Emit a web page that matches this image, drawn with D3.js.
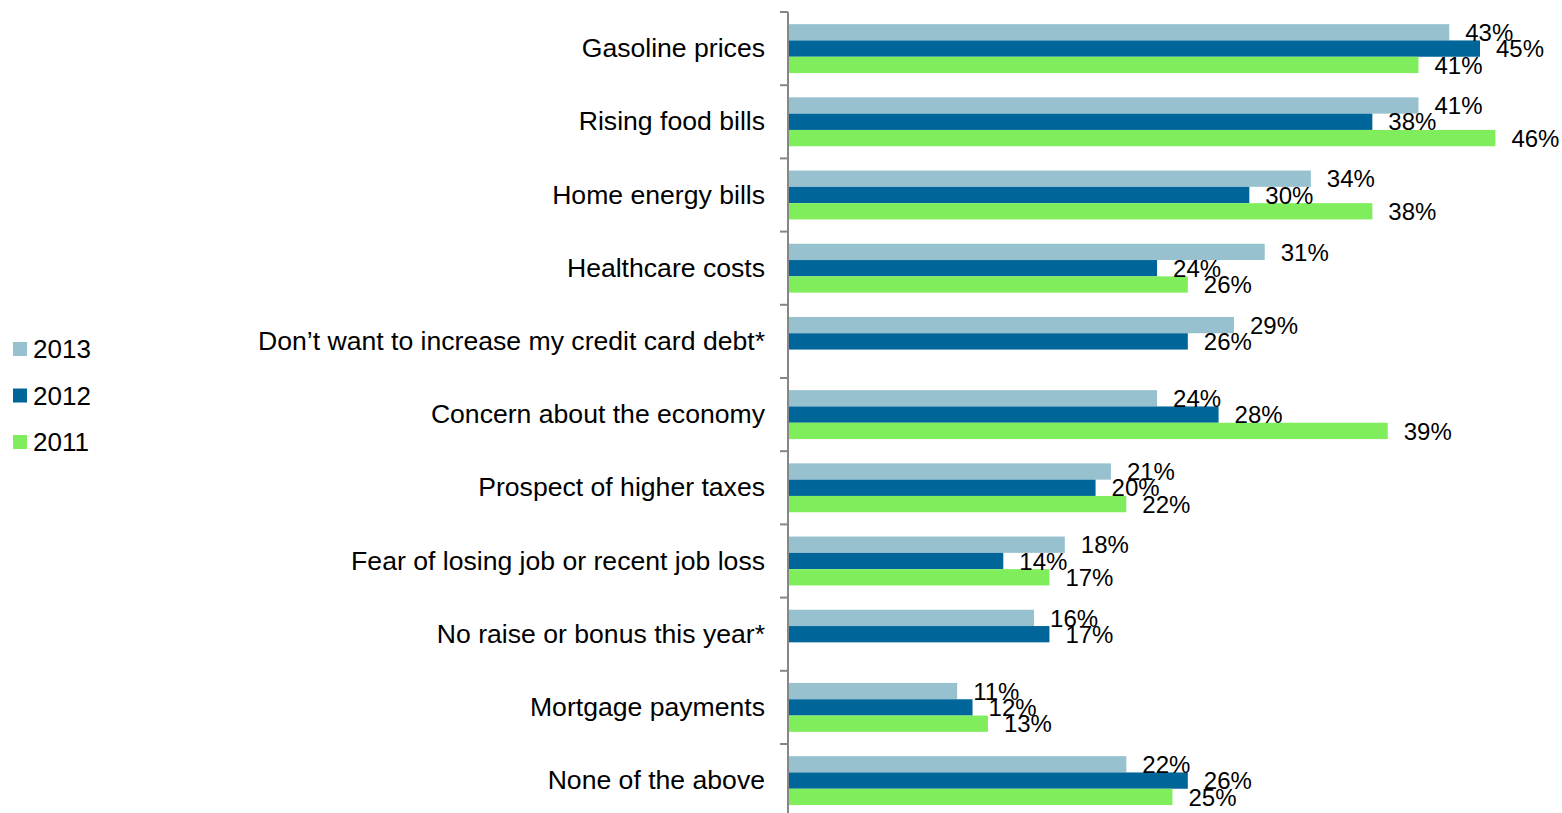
<!DOCTYPE html>
<html>
<head>
<meta charset="utf-8">
<script src="https://cdn.jsdelivr.net/npm/d3@7"></script>
<style>
  html, body { margin: 0; padding: 0; background: #fff; }
  svg { display: block; font-family: "Liberation Sans", Arial, sans-serif; }
</style>
</head>
<body>
<svg id="chart" width="1562" height="813"></svg>
<script>
// Reasons for cutting back on spending, by survey year (percent of respondents)
const categories = [
  "Gasoline prices",
  "Rising food bills",
  "Home energy bills",
  "Healthcare costs",
  "Don\u2019t want to increase my credit card debt*",
  "Concern about the economy",
  "Prospect of higher taxes",
  "Fear of losing job or recent job loss",
  "No raise or bonus this year*",
  "Mortgage payments",
  "None of the above"
];
const seriesNames = ["2013", "2012", "2011"];
const values2013 = [43, 41, 34, 31, 29, 24, 21, 18, 16, 11, 22];
const values2012 = [45, 38, 30, 24, 26, 28, 20, 14, 17, 12, 26];
const values2011 = [41, 46, 38, 26, null, 39, 22, 17, null, 13, 25];
const seriesColors = ["#97C1CF", "#006699", "#80EE5C"];

const seriesValues = [values2013, values2012, values2011];

const svg = d3.select("#chart");
const axisX = 788;
const catFont = 26.6;
const labelFont = 24;
const legendFont = 26;

const x = d3.scaleLinear().domain([0, 45]).range([axisX, 1480]);
const y = d3.scaleBand().domain(categories).range([12, 12 + 11 * 73.2]).padding(0);
const bw = y.bandwidth();
const ySub = d3.scaleBand().domain(seriesNames).range([bw * 0.166, bw * 0.834]).padding(0);

// bars with value labels
const groups = svg.append("g").selectAll("g")
  .data(categories)
  .join("g")
  .attr("transform", d => `translate(0,${y(d)})`);

groups.each(function(cat, i) {
  const g = d3.select(this);
  const rows = seriesNames.map((s, k) => ({ s, k, v: seriesValues[k][i] })).filter(r => r.v != null);
  g.selectAll("rect")
    .data(rows)
    .join("rect")
    .attr("x", x(0))
    .attr("y", r => ySub(r.s))
    .attr("width", r => x(r.v) - x(0))
    .attr("height", ySub.bandwidth())
    .attr("fill", r => seriesColors[r.k]);
  g.selectAll("text")
    .data(rows)
    .join("text")
    .attr("x", r => x(r.v) + 16)
    .attr("y", r => ySub(r.s) + ySub.bandwidth() / 2)
    .attr("dy", "0.36em")
    .attr("font-size", labelFont)
    .attr("fill", "#000")
    .text(r => r.v + "%");
});

// category labels
const yAxis = d3.axisLeft(y).tickSize(0).tickPadding(23);
const ag = svg.append("g").attr("transform", `translate(${axisX},0)`).call(yAxis);
ag.select(".domain").remove();
ag.selectAll("text")
  .attr("font-size", catFont)
  .attr("font-family", "Liberation Sans, Arial, sans-serif")
  .attr("fill", "#000");

// axis line and boundary ticks
const bounds = categories.map(c => y(c)).concat([y.range()[1]]);
svg.append("line")
  .attr("x1", axisX).attr("x2", axisX)
  .attr("y1", bounds[0]).attr("y2", bounds[bounds.length - 1])
  .attr("stroke", "#868686").attr("stroke-width", 2);
svg.append("g").selectAll("line")
  .data(bounds)
  .join("line")
  .attr("x1", axisX - 8).attr("x2", axisX)
  .attr("y1", d => d).attr("y2", d => d)
  .attr("stroke", "#868686").attr("stroke-width", 2);

// legend
const legend = svg.append("g").selectAll("g")
  .data(seriesNames)
  .join("g")
  .attr("transform", (d, i) => `translate(13,${342 + i * 46.5})`);
legend.append("rect")
  .attr("width", 14).attr("height", 14)
  .attr("fill", (d, i) => seriesColors[i]);
legend.append("text")
  .attr("x", 20).attr("y", 7).attr("dy", "0.36em")
  .attr("font-size", legendFont)
  .attr("fill", "#000")
  .text(d => d);
</script>
</body>
</html>
